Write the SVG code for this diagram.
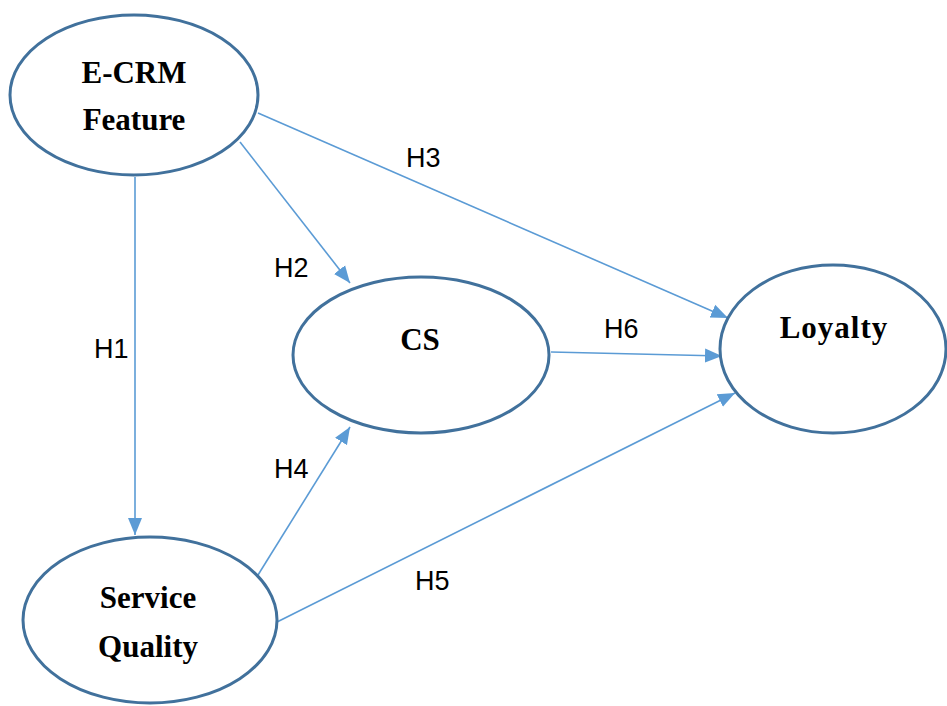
<svg xmlns="http://www.w3.org/2000/svg" width="947" height="706" viewBox="0 0 947 706">
<style>
.node ellipse{fill:#fff;stroke:#41719C;stroke-width:3}
.node text{font-family:"Liberation Serif","Times New Roman",serif;font-weight:bold;font-size:31px;fill:#000;text-anchor:middle}
.edge line{stroke:#5B9BD5;stroke-width:1.6;fill:none;marker-end:url(#arr)}
.lbl{font-family:"Liberation Sans",Arial,sans-serif;font-size:27px;fill:#000}
</style>
<defs>
<marker id="arr" markerUnits="userSpaceOnUse" markerWidth="18" markerHeight="16" viewBox="0 0 18 16" refX="17" refY="8" orient="auto">
<path d="M0,1 L17,8 L0,15 Z" fill="#5B9BD5"/>
</marker>
</defs>
<rect width="947" height="706" fill="#fff"/>
<g id="connectors" class="edge">
<line x1="135" y1="177" x2="135" y2="535"/>
<line x1="240" y1="142" x2="350" y2="283"/>
<line x1="258" y1="113" x2="728" y2="318"/>
<line x1="551" y1="352" x2="722" y2="356"/>
<line x1="258" y1="575" x2="350" y2="427"/>
<line x1="277" y1="622" x2="735" y2="393"/>
</g>
<g id="labels">
<text class="lbl" x="94" y="358">H1</text>
<text class="lbl" x="274" y="277">H2</text>
<text class="lbl" x="406" y="167">H3</text>
<text class="lbl" x="274" y="478">H4</text>
<text class="lbl" x="415" y="590">H5</text>
<text class="lbl" x="604" y="338">H6</text>
</g>
<g id="ecrm" class="node">
<ellipse cx="134" cy="95" rx="124" ry="80"/>
<text x="134" y="83">E-CRM</text>
<text x="134" y="130">Feature</text>
</g>
<g id="cs" class="node">
<ellipse cx="421" cy="355" rx="128" ry="78"/>
<text x="420" y="350">CS</text>
</g>
<g id="loyalty" class="node">
<ellipse cx="833" cy="349" rx="113" ry="84"/>
<text x="834" y="338" letter-spacing="1">Loyalty</text>
</g>
<g id="sq" class="node">
<ellipse cx="150" cy="620" rx="127" ry="83"/>
<text x="148" y="608">Service</text>
<text x="148" y="657">Quality</text>
</g>
</svg>
